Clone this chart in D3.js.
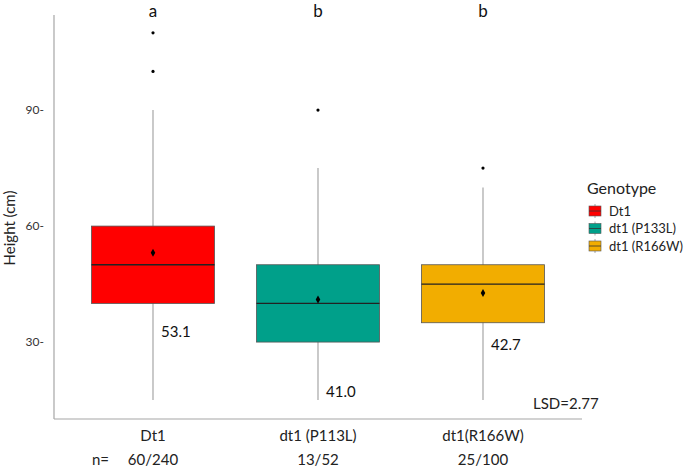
<!DOCTYPE html>
<html><head><meta charset="utf-8">
<script src="https://cdn.jsdelivr.net/npm/d3@7/dist/d3.min.js"></script>
<style>body{margin:0;background:#fff}svg{display:block}text{font-family:Lato,"Open Sans",sans-serif}</style>
</head><body><svg id="c" width="685" height="468"></svg>
<script>
const categories = ["Dt1", "dt1 (P113L)", "dt1(R166W)"];
const legendLabels = ["Dt1", "dt1 (P133L)", "dt1 (R166W)"];
const colors = ["#FF0000", "#00A08A", "#F2AD00"];
const q1 = [40, 30, 35];
const medians = [50, 40, 45];
const q3 = [60, 50, 50];
const whiskerLow = [15, 15, 15];
const whiskerHigh = [90, 75, 70];
const means = [53.1, 41.0, 42.7];
const meanLabels = ["53.1", "41.0", "42.7"];
const meanLabelY = [32.6, 17.1, 29.2];
const outliers = [[110, 100], [90], [75]];
const letters = ["a", "b", "b"];
const counts = ["60/240", "13/52", "25/100"];
const yTicks = [30, 60, 90];

(function () {
const svg = d3.select("#c");
const mL = 54, mR = 582, mT = 15, mB = 419;
const x = d3.scalePoint().domain(categories).range([mL, mR]).padding(0.6);
const y = d3.scaleLinear().domain([10.1, 114.6]).range([mB, mT]);
const bw = 123;
const grey = "#a6a6a6";

svg.append("line").attr("x1", mL).attr("x2", mL).attr("y1", mT).attr("y2", mB).attr("stroke", grey).attr("stroke-width", 1.2);
svg.append("line").attr("x1", mL).attr("x2", mR).attr("y1", mB).attr("y2", mB).attr("stroke", grey).attr("stroke-width", 1.2);

svg.selectAll(".yt").data(yTicks).enter().append("text")
  .attr("x", mL - 10).attr("y", d => y(d)).attr("dy", "0.35em")
  .attr("text-anchor", "end").attr("font-size", 12).attr("fill", "#333")
  .text(d => d + "-");

svg.append("text").attr("transform", "translate(15,228) rotate(-90)")
  .attr("text-anchor", "middle").attr("font-size", 15).attr("fill", "#222").text("Height (cm)");

const g = svg.selectAll(".box").data(categories).enter().append("g");
g.append("line").attr("x1", d => x(d)).attr("x2", d => x(d))
  .attr("y1", (d, i) => y(whiskerLow[i])).attr("y2", (d, i) => y(whiskerHigh[i]))
  .attr("stroke", grey).attr("stroke-width", 1.2);
g.append("rect").attr("x", d => x(d) - bw / 2).attr("width", bw)
  .attr("y", (d, i) => y(q3[i])).attr("height", (d, i) => y(q1[i]) - y(q3[i]))
  .attr("fill", (d, i) => colors[i]).attr("stroke", "#555").attr("stroke-width", 0.8);
g.append("line").attr("x1", d => x(d) - bw / 2).attr("x2", d => x(d) + bw / 2)
  .attr("y1", (d, i) => y(medians[i])).attr("y2", (d, i) => y(medians[i]))
  .attr("stroke", "#222").attr("stroke-width", 1.3);
g.append("path").attr("d", d3.symbol(d3.symbolDiamond, 18))
  .attr("transform", (d, i) => `translate(${x(d)},${y(means[i])})`).attr("fill", "#000");
categories.forEach((c, i) => {
  outliers[i].forEach(v => {
    svg.append("circle").attr("cx", x(c)).attr("cy", y(v)).attr("r", 1.6).attr("fill", "#000");
  });
});
g.append("text").attr("x", d => x(d) + 8).attr("y", (d, i) => y(meanLabelY[i])).attr("dy", "0.35em")
  .attr("font-size", 15).attr("fill", "#111").text((d, i) => meanLabels[i]);
g.append("text").attr("x", d => x(d)).attr("y", 17)
  .attr("text-anchor", "middle").attr("font-size", 17).attr("fill", "#111").text((d, i) => letters[i]);
g.append("text").attr("x", d => x(d)).attr("y", 436).attr("dy", "0.35em").attr("text-anchor", "middle")
  .attr("font-size", 15).attr("fill", "#222").text(d => d);
g.append("text").attr("x", d => x(d)).attr("y", 460).attr("dy", "0.35em").attr("text-anchor", "middle")
  .attr("font-size", 15).attr("fill", "#222").text((d, i) => counts[i]);
svg.append("text").attr("x", 92).attr("y", 460).attr("dy", "0.35em").attr("font-size", 15).attr("fill", "#222").text("n=");

svg.append("text").attr("x", 533).attr("y", 404).attr("dy", "0.35em").attr("font-size", 15).attr("fill", "#222").text("LSD=2.77");

svg.append("text").attr("x", 587).attr("y", 188).attr("dy", "0.35em").attr("font-size", 16).attr("fill", "#222").text("Genotype");
const lg = svg.selectAll(".lg").data(legendLabels).enter().append("g")
  .attr("transform", (d, i) => `translate(589,${211 + i * 17.5})`);
lg.append("line").attr("x1", 6).attr("x2", 6).attr("y1", -7).attr("y2", 7).attr("stroke", grey);
lg.append("rect").attr("x", 0).attr("y", -5).attr("width", 12).attr("height", 10)
  .attr("fill", (d, i) => colors[i]).attr("stroke", "#555").attr("stroke-width", 0.6);
lg.append("line").attr("x1", 0).attr("x2", 12).attr("y1", 0).attr("y2", 0).attr("stroke", "#333").attr("stroke-width", 0.8);
lg.append("text").attr("x", 20).attr("y", 0).attr("dy", "0.35em").attr("font-size", 13).attr("fill", "#222").text(d => d);
})();
</script></body></html>
